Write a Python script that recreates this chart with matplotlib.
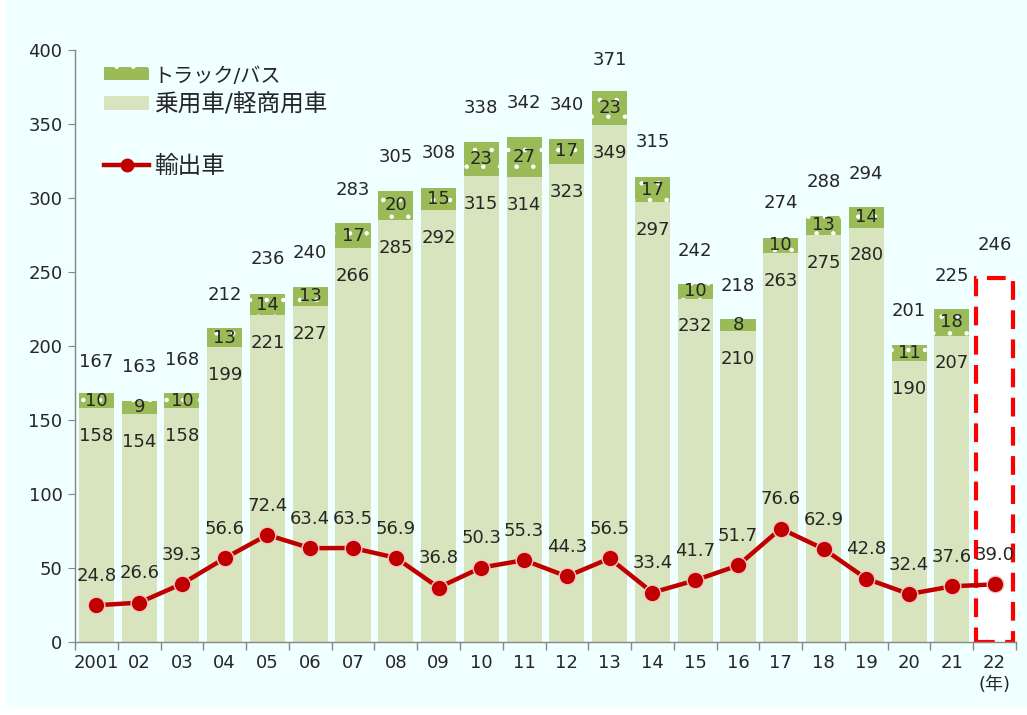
import matplotlib
matplotlib.use("Agg")
import matplotlib.pyplot as plt
from matplotlib.patches import Patch, Rectangle
from matplotlib.lines import Line2D
import numpy as np

plt.rcParams['font.family'] = ['DejaVu Sans', 'Noto Sans CJK JP']
plt.rcParams['hatch.linewidth'] = 0.8

years = ['2001', '02', '03', '04', '05', '06', '07', '08', '09', '10', '11',
         '12', '13', '14', '15', '16', '17', '18', '19', '20', '21', '22\n(年)']
passenger = [158, 154, 158, 199, 221, 227, 266, 285, 292, 315, 314,
             323, 349, 297, 232, 210, 263, 275, 280, 190, 207]
truck = [10, 9, 10, 13, 14, 13, 17, 20, 15, 23, 27,
         17, 23, 17, 10, 8, 10, 13, 14, 11, 18]
totals = [167, 163, 168, 212, 236, 240, 283, 305, 308, 338, 342,
          340, 371, 315, 242, 218, 274, 288, 294, 201, 225, 246]
exports = [24.8, 26.6, 39.3, 56.6, 72.4, 63.4, 63.5, 56.9, 36.8, 50.3, 55.3,
           44.3, 56.5, 33.4, 41.7, 51.7, 76.6, 62.9, 42.8, 32.4, 37.6, 39.0]

bg = '#f0ffff'
light = '#d7e4bd'
green = '#9bbb59'
red = '#c00000'
txt = '#262626'

fig = plt.figure(figsize=(10.27, 7.15), dpi=100, facecolor='white')
fig.patches.append(Rectangle((6 / 1027, 8 / 715), 1, 1, transform=fig.transFigure,
                             facecolor=bg, edgecolor='none', zorder=-10))
ax = fig.add_axes([75 / 1027, 1 - 642 / 715, 941 / 1027, 592 / 715])
ax.patch.set_alpha(0)

n = len(passenger)
x = np.arange(n)
w = 0.82
ax.bar(x, passenger, width=w, color=light, zorder=2)
ax.bar(x, truck, width=w, bottom=passenger, color=green, edgecolor='white',
       linewidth=0, hatch='.', zorder=2)

# 2022: total only, dashed box
ax.bar(len(totals) - 1, totals[-1], width=0.88, facecolor='white', edgecolor='#ff0000',
       linestyle=(0, (4.5, 2.5)), linewidth=3, zorder=1)

ax.plot(np.arange(len(exports)), exports, color=red, lw=3.2, marker='o', ms=12,
        mfc=red, mec='#f6c6c6', mew=1, zorder=5)

fs = 13
for i in range(n):
    ax.annotate(str(passenger[i]), (i, passenger[i]), xytext=(0, -20),
                textcoords='offset points', ha='center', va='center',
                fontsize=fs, color=txt, zorder=6)
    ax.annotate(str(truck[i]), (i, passenger[i] + truck[i] / 2), ha='center',
                va='center', fontsize=fs, color=txt, zorder=6)
for i, t in enumerate(totals):
    ax.annotate(str(t), (i, t), xytext=(0, 24), textcoords='offset points',
                ha='center', va='center', fontsize=fs, color=txt, zorder=6)
for i, e in enumerate(exports):
    ax.annotate(f'{e:.1f}', (i, e), xytext=(0, 21), textcoords='offset points',
                ha='center', va='center', fontsize=fs, color=txt, zorder=6)

ax.set_xlim(-0.5, len(totals) - 0.5)
ax.set_ylim(0, 400)
ax.set_yticks(range(0, 401, 50))
ax.set_xticks(np.arange(len(totals)))
ax.set_xticks(np.arange(-0.5, len(totals), 1), minor=True)
ax.set_xticklabels(years, fontsize=fs, color=txt, linespacing=1.25)
ax.tick_params(axis='x', which='major', length=0, pad=9)
ax.tick_params(axis='x', which='minor', length=6, color='#868686', width=1)
ax.tick_params(axis='y', length=5, color='#868686', labelsize=fs, labelcolor=txt, pad=4)
for s in ['top', 'right']:
    ax.spines[s].set_visible(False)
for s in ['left', 'bottom']:
    ax.spines[s].set_color('#868686')
    ax.spines[s].set_linewidth(1)

handles = [
    Patch(facecolor=green, edgecolor='white', linewidth=0, hatch='.'),
    Patch(facecolor=light, edgecolor='none'),
    Line2D([], [], color='none'),
    Line2D([], [], color=red, lw=3.2, marker='o', ms=9, mfc=red, mec=red),
]
labels = ['トラック/バス', '乗用車/軽商用車', ' ', '輸出車']
leg = ax.legend(handles, labels, loc='upper left', bbox_to_anchor=(0.031, 0.972),
                frameon=False, fontsize=17, handlelength=1.9, handleheight=0.5,
                handletextpad=0.2, labelspacing=0.28, borderpad=0, borderaxespad=0,
                labelcolor=txt)
leg.get_texts()[0].set_fontsize(14.5)

fig.savefig('out.png', dpi=100, facecolor=fig.get_facecolor())
